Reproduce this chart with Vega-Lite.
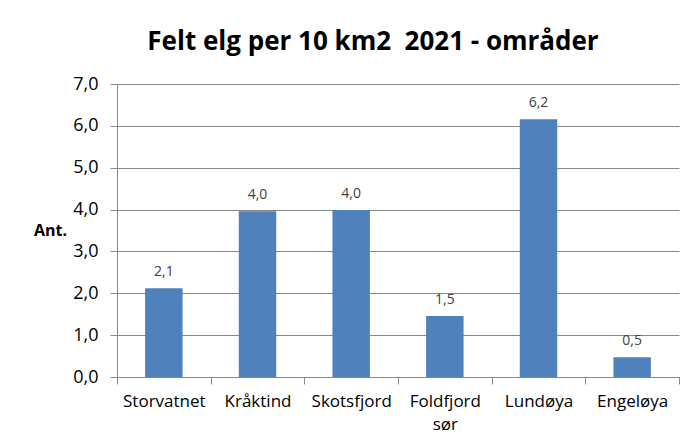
{
  "$schema": "https://vega.github.io/schema/vega-lite/v6.json",
  "autosize": "none",
  "width": 562,
  "height": 293,
  "padding": {"left": 117, "top": 84, "right": 3, "bottom": 64},
  "background": "white",
  "config": {
    "locale": {"number": {"decimal": ",", "thousands": " ", "grouping": [3], "currency": ["", ""]}},
    "view": {"stroke": null},
    "font": "Open Sans"
  },
  "title": {
    "text": "Felt elg per 10 km2\u00a0\u00a02021 - områder",
    "font": "Open Sans",
    "fontSize": 26,
    "fontWeight": "bold",
    "color": "#000000",
    "anchor": "middle",
    "dx": -25,
    "offset": 20
  },
  "data": {
    "values": [
      {"omrade": "Storvatnet", "ant": 2.12},
      {"omrade": "Kråktind", "ant": 3.96},
      {"omrade": "Skotsfjord", "ant": 3.99},
      {"omrade": "Foldfjord sør", "ant": 1.46},
      {"omrade": "Lundøya", "ant": 6.16},
      {"omrade": "Engeløya", "ant": 0.47}
    ]
  },
  "encoding": {
    "x": {
      "field": "omrade",
      "type": "nominal",
      "sort": null,
      "scale": {"paddingInner": 0, "paddingOuter": 0},
      "axis": {
        "title": null,
        "labelAngle": 0,
        "labelFont": "Open Sans",
        "labelFontSize": 17,
        "labelColor": "#000000",
        "labelPadding": 9,
        "labelExpr": "split(datum.label, ' ')",
        "tickBand": "extent",
        "tickSize": 7,
        "tickColor": "#888888",
        "domainColor": "#888888",
        "labelLineHeight": 23
      }
    },
    "y": {
      "field": "ant",
      "type": "quantitative",
      "scale": {"domain": [0, 7], "nice": false},
      "axis": {
        "title": "Ant.",
        "titleAngle": 0,
        "titleFont": "Open Sans",
        "titleFontSize": 16,
        "titleFontWeight": "bold",
        "titleColor": "#000000",
        "titleX": -67,
        "titleY": 146,
        "titleAlign": "center",
        "titleBaseline": "middle",
        "values": [0, 1, 2, 3, 4, 5, 6, 7],
        "format": ".1f",
        "labelFont": "Open Sans",
        "labelFontSize": 18,
        "labelColor": "#000000",
        "labelPadding": 12,
        "tickSize": 7,
        "tickColor": "#888888",
        "domainColor": "#888888",
        "grid": true,
        "gridColor": "#888888",
        "gridWidth": 1
      }
    }
  },
  "layer": [
    {
      "mark": {"type": "bar", "color": "#4F81BD", "width": {"band": 0.4}}
    },
    {
      "mark": {"type": "text", "dy": -9, "fontSize": 14, "font": "Open Sans", "color": "#404040", "baseline": "bottom"},
      "encoding": {
        "text": {"field": "ant", "type": "quantitative", "format": ".1f"}
      }
    }
  ]
}
